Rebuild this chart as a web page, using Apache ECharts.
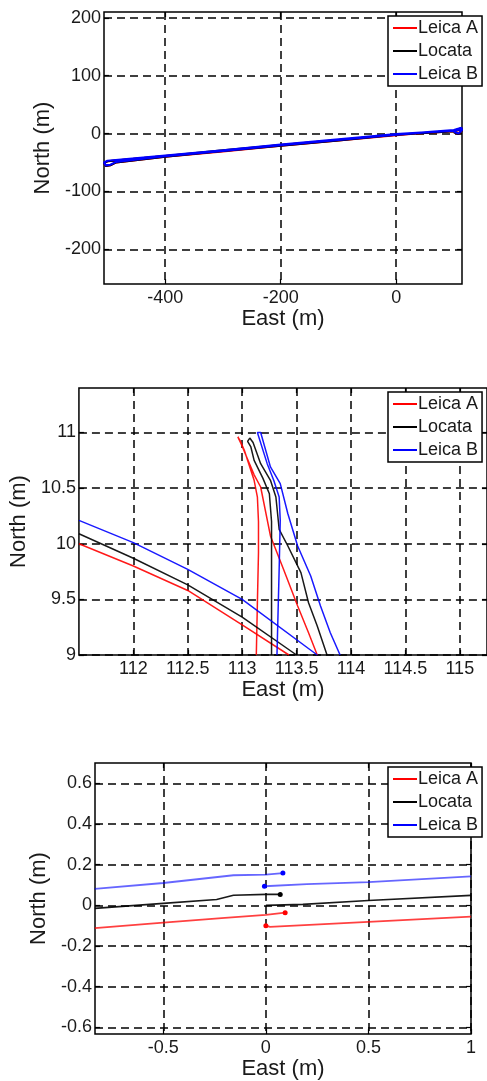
<!DOCTYPE html>
<html>
<head>
<meta charset="utf-8">
<script src="https://cdn.jsdelivr.net/npm/echarts@6/dist/echarts.min.js"></script>
<style>
html, body { margin: 0; padding: 0; background: #fff; }
#main { width: 487px; height: 1081px; }
</style>
</head>
<body>
<div id="main"></div>
<script>
// series names
var names = ['Leica A', 'Locata', 'Leica B'];
var colors = ['#ff0000', '#000000', '#0000ff'];

// panel 1 - whole track (East, North in m)
var overviewA = [[114,7],[100,4],[50,1],[0,-2],[-100,-11],[-200,-20],[-300,-30],[-400,-39],[-500,-48],[-506,-51],[-503,-56],[-495,-55],[-485,-50],[-400,-40],[-300,-31],[-200,-21],[-100,-12],[0,-3],[60,2],[100,5],[113,9],[114,5],[108,-1],[100,2]];
var overviewL = [[114,8],[100,4],[50,1],[0,-2],[-100,-11],[-200,-20],[-300,-29],[-400,-39],[-500,-48],[-506,-51],[-503,-56],[-495,-55],[-485,-50],[-400,-40],[-300,-30],[-200,-21],[-100,-12],[0,-2],[60,2],[100,5],[113,9],[114,5],[108,-1],[100,2]];
var overviewB = [[114,8],[100,5],[50,2],[0,-1],[-100,-10],[-200,-19],[-300,-29],[-400,-38],[-500,-47],[-506,-50],[-503,-55],[-495,-54],[-485,-49],[-400,-39],[-300,-30],[-200,-20],[-100,-11],[0,-2],[60,3],[100,6],[113,10],[114,6],[108,0],[100,3]];
var overviewXTicks = [-400, -200, 0];
var overviewYTicks = [-200, -100, 0, 100, 200];

// panel 2 - zoom on the turn
var turnDiagA = [[111.5,10.0],[112,9.8],[112.5,9.58],[113,9.27],[113.43,9.0]];
var turnLoopA = [[113.69,9.0],[113.61,9.2],[113.51,9.44],[113.38,9.77],[113.26,10.07],[113.17,10.51],[113.11,10.62],[113.05,10.76],[112.99,10.9],[112.96,10.96],[112.98,10.93],[113.02,10.84],[113.07,10.69],[113.11,10.57],[113.14,10.42],[113.15,10.2],[113.15,9.92],[113.14,9.47],[113.13,9.0]];
var turnDiagL = [[111.5,10.09],[112,9.87],[112.5,9.63],[113,9.34],[113.5,9.0]];
var turnLoopL = [[113.78,9.0],[113.69,9.26],[113.61,9.47],[113.54,9.74],[113.42,9.98],[113.34,10.13],[113.31,10.42],[113.26,10.57],[113.17,10.72],[113.1,10.91],[113.07,10.95],[113.05,10.92],[113.08,10.87],[113.11,10.75],[113.19,10.59],[113.25,10.45],[113.27,10.2],[113.27,9.0]];
var turnDiagB = [[111.5,10.21],[112,10.01],[112.5,9.77],[113,9.5],[113.69,9.0]];
var turnLoopB = [[113.9,9.0],[113.81,9.2],[113.72,9.44],[113.63,9.71],[113.51,9.98],[113.42,10.27],[113.35,10.54],[113.26,10.69],[113.17,11.0],[113.14,11.0],[113.23,10.72],[113.29,10.57],[113.34,10.42],[113.35,10.21],[113.34,9.77],[113.32,9.0]];
var turnXTicks = [112, 112.5, 113, 113.5, 114, 114.5, 115];
var turnYTicks = [9, 9.5, 10, 10.5, 11];

// panel 3 - zoom on the origin
var originA1 = [[-0.834,-0.112],[-0.5,-0.085],[-0.2,-0.062],[0,-0.047],[0.094,-0.036]];
var originA2 = [[0,-0.1],[0.02,-0.106],[0.5,-0.081],[1.0,-0.055]];
var originL1 = [[-0.834,-0.015],[-0.5,0.01],[-0.24,0.029],[-0.158,0.05],[0,0.054],[0.07,0.054]];
var originL2 = [[0,0.0],[0.18,0.005],[0.5,0.024],[1.0,0.049]];
var originB1 = [[-0.834,0.081],[-0.5,0.11],[-0.158,0.148],[0,0.151],[0.083,0.159]];
var originB2 = [[-0.007,0.094],[0.2,0.104],[0.5,0.114],[1.0,0.143]];
var originXTicks = [-0.5, 0, 0.5, 1];
var originYTicks = [-0.6, -0.4, -0.2, 0, 0.2, 0.4, 0.6];

var FONT = 'Liberation Sans, Arial, Helvetica, sans-serif';
var TXT = '#1a1a1a';

var grids = [
    {left: 104, top: 12, width: 358, height: 272},
    {left: 76, top: 388, width: 411, height: 267},
    {left: 95, top: 763, width: 376, height: 273}
];

function makeAxis(gridIndex, min, max, ticks, pos, labelled, nameGap)
{
    var isX = (pos == 'bottom' || pos == 'top');
    var axis = {
        type: 'value',
        gridIndex: gridIndex,
        position: pos,
        min: min,
        max: max,
        axisLine: {show: false, onZero: false},
        axisTick: {show: true, inside: true, length: 5, customValues: ticks, lineStyle: {color: '#000', width: 1.2}},
        axisLabel: {show: labelled, customValues: ticks, fontSize: 18, color: TXT, fontFamily: FONT, margin: isX ? 5 : 3},
        splitLine: {show: labelled, lineStyle: {color: '#000', width: 1.5, type: [8, 5]}}
    };
    if (labelled) {
        axis.name = isX ? 'East (m)' : 'North (m)';
        axis.nameLocation = 'middle';
        axis.nameGap = nameGap;
        axis.nameTextStyle = {fontSize: 22, color: TXT, fontFamily: FONT};
    }
    return axis;
}

function makeLegend(top)
{
    return {
        data: names,
        orient: 'vertical',
        left: 388,
        top: top,
        icon: 'rect',
        itemWidth: 24,
        itemHeight: 2,
        itemGap: 5,
        padding: [3, 4, 3, 5],
        backgroundColor: '#fff',
        borderColor: '#000',
        borderWidth: 1.5,
        textStyle: {fontSize: 18, color: TXT, fontFamily: FONT, padding: [0, 0, 0, -4]}
    };
}

// points that carry a dot (start/end of a pass)
function dotted(points, idx)
{
    return points.map(function(p, i) {
        if (idx.indexOf(i) >= 0) {
            return {value: p, symbol: 'circle', symbolSize: 5};
        }
        return {value: p};
    });
}

function line(name, color, gridIndex, data, width, opacity)
{
    return {
        name: name,
        type: 'line',
        xAxisIndex: gridIndex * 2,
        yAxisIndex: gridIndex * 2,
        data: data,
        symbol: 'none',
        itemStyle: {color: color},
        lineStyle: {color: color, width: width, opacity: opacity},
        clip: true,
        silent: true,
        animation: false
    };
}

var xAxes = [
    makeAxis(0, -506, 114, overviewXTicks, 'bottom', true, 22),
    makeAxis(0, -506, 114, overviewXTicks, 'top', false),
    makeAxis(1, 111.5, 115.25, turnXTicks, 'bottom', true, 22),
    makeAxis(1, 111.5, 115.25, turnXTicks, 'top', false),
    makeAxis(2, -0.833, 1.0, originXTicks, 'bottom', true, 22),
    makeAxis(2, -0.833, 1.0, originXTicks, 'top', false)
];
var yAxes = [
    makeAxis(0, -260, 210, overviewYTicks, 'left', true, 41),
    makeAxis(0, -260, 210, overviewYTicks, 'right', false),
    makeAxis(1, 9, 11.4, turnYTicks, 'left', true, 42),
    makeAxis(1, 9, 11.4, turnYTicks, 'right', false),
    makeAxis(2, -0.633, 0.70, originYTicks, 'left', true, 39),
    makeAxis(2, -0.633, 0.70, originYTicks, 'right', false)
];

var series = [
    line(names[0], colors[0], 0, overviewA, 2, 1),
    line(names[1], colors[1], 0, overviewL, 2, 1),
    line(names[2], colors[2], 0, overviewB, 2.2, 1),

    line(names[0], colors[0], 1, turnDiagA, 1.5, 0.9),
    line(names[0], colors[0], 1, turnLoopA, 1.5, 0.9),
    line(names[1], colors[1], 1, turnDiagL, 1.5, 0.9),
    line(names[1], colors[1], 1, turnLoopL, 1.5, 0.9),
    line(names[2], colors[2], 1, turnDiagB, 1.5, 0.9),
    line(names[2], colors[2], 1, turnLoopB, 1.5, 0.9),

    line(names[0], colors[0], 2, dotted(originA1, [4]), 1.8, 0.75),
    line(names[0], colors[0], 2, dotted(originA2, [0]), 1.8, 0.75),
    line(names[1], colors[1], 2, dotted(originL1, [5]), 1.6, 0.9),
    line(names[1], colors[1], 2, dotted(originL2, []), 1.6, 0.9),
    line(names[2], colors[2], 2, dotted(originB1, [4]), 1.8, 0.6),
    line(names[2], colors[2], 2, dotted(originB2, [0]), 1.8, 0.6)
];

var chart = echarts.init(document.getElementById('main'), null, {renderer: 'canvas'});
chart.setOption({
    backgroundColor: '#fff',
    animation: false,
    grid: grids.map(function(g) {
        return {left: g.left, top: g.top, width: g.width, height: g.height, show: true, borderColor: '#000', borderWidth: 1.5, backgroundColor: 'transparent'};
    }),
    legend: [makeLegend(16), makeLegend(392), makeLegend(767)],
    xAxis: xAxes,
    yAxis: yAxes,
    series: series
});
</script>
</body>
</html>
